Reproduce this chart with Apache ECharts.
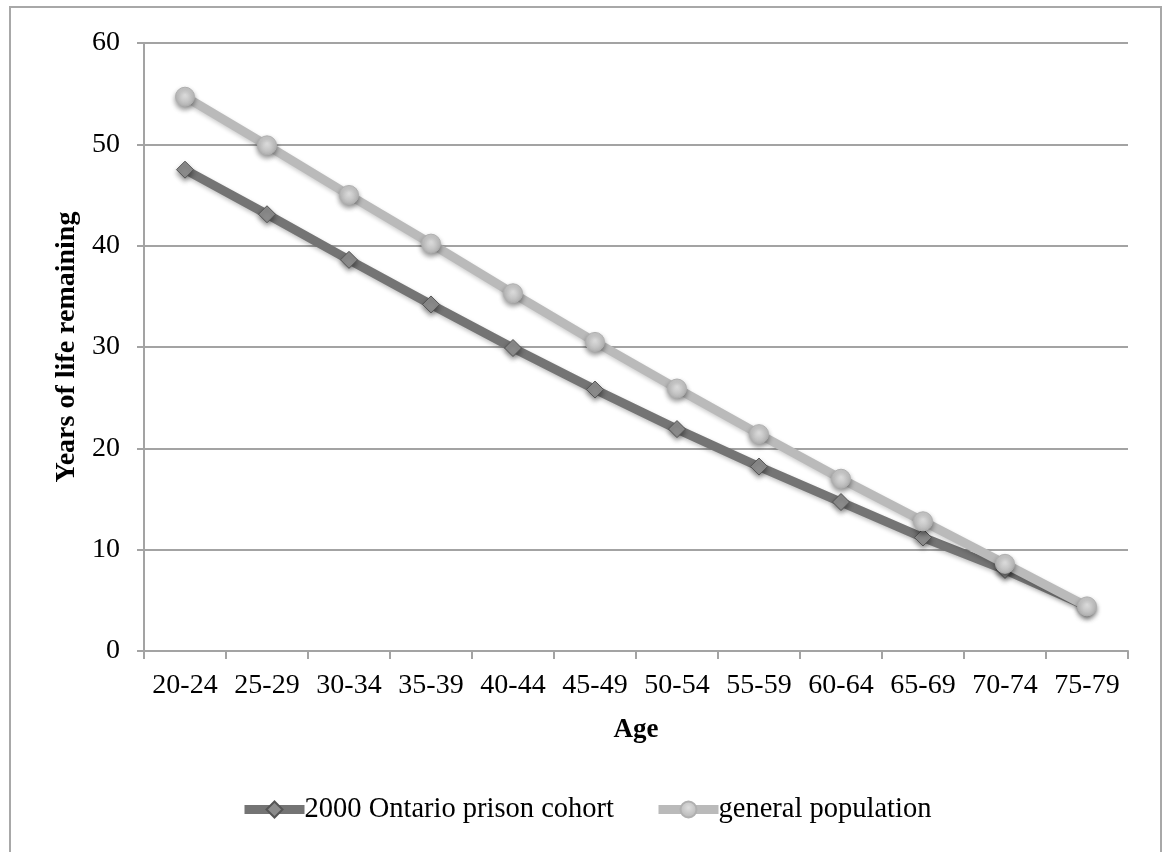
<!DOCTYPE html>
<html>
<head>
<meta charset="utf-8">
<script src="https://cdn.jsdelivr.net/npm/echarts@6/dist/echarts.min.js"></script>
<style>
html,body{margin:0;padding:0;background:#fff;}
#main{width:1165px;height:852px;}
</style>
</head>
<body>
<div id="main"></div>
<script>
const categories = ['20-24','25-29','30-34','35-39','40-44','45-49','50-54','55-59','60-64','65-69','70-74','75-79'];
const prisonCohort = [47.5, 43.1, 38.6, 34.2, 29.9, 25.8, 21.9, 18.2, 14.7, 11.2, 8.0, 4.4];
const generalPopulation = [54.7, 49.9, 45.0, 40.2, 35.3, 30.5, 25.9, 21.4, 17.0, 12.8, 8.6, 4.4];
const seriesNames = ['2000 Ontario prison cohort', 'general population'];
const yTicks = {min: 0, max: 60, interval: 10};

const chart = echarts.init(document.getElementById('main'), null, {renderer: 'canvas'});
const serif = '"Liberation Serif", "DejaVu Serif", serif';
const gridColor = '#a3a3a3';

chart.setOption({
  animation: false,
  backgroundColor: '#fff',
  graphic: [{
    type: 'rect', z: -1,
    shape: {x: 10, y: 7, width: 1151, height: 880},
    style: {fill: '#fff', stroke: '#a8a8a8', lineWidth: 2}
  }],
  grid: {left: 144, right: 37, top: 43, bottom: 201},
  legend: {
    data: seriesNames,
    left: 240, top: 795, padding: 0,
    itemWidth: 60, itemHeight: 20, itemGap: 40,
    lineStyle: {width: 9},
    textStyle: {fontFamily: serif, fontSize: 28.5, color: '#000', padding: [0, 0, 0, -5]}
  },
  xAxis: {
    type: 'category',
    data: categories,
    boundaryGap: true,
    name: 'Age',
    nameLocation: 'middle',
    nameGap: 66,
    nameTextStyle: {fontFamily: serif, fontSize: 27, fontWeight: 'bold', color: '#000'},
    axisLine: {lineStyle: {color: gridColor, width: 2}},
    axisTick: {show: true, length: 8, inside: false, interval: 0, lineStyle: {color: gridColor, width: 2}},
    axisLabel: {fontFamily: serif, fontSize: 28, color: '#000', margin: 21, interval: 0},
    splitLine: {show: false}
  },
  yAxis: {
    type: 'value',
    min: yTicks.min, max: yTicks.max, interval: yTicks.interval,
    name: 'Years of life remaining',
    nameLocation: 'middle',
    nameGap: 62,
    nameTextStyle: {fontFamily: serif, fontSize: 28, fontWeight: 'bold', color: '#000'},
    axisLine: {show: true, lineStyle: {color: gridColor, width: 2}},
    axisTick: {show: true, length: 7, lineStyle: {color: gridColor, width: 2}},
    axisLabel: {fontFamily: serif, fontSize: 28, color: '#000', margin: 24},
    splitLine: {show: true, lineStyle: {color: gridColor, width: 2}}
  },
  series: [
    {
      name: seriesNames[0],
      type: 'line',
      data: prisonCohort,
      symbol: 'diamond',
      symbolSize: 17,
      lineStyle: {color: '#747474', width: 9, shadowColor: 'rgba(0,0,0,0.25)', shadowBlur: 4, shadowOffsetY: 2},
      itemStyle: {color: '#8c8c8c', borderColor: '#555', borderWidth: 1,
        shadowColor: 'rgba(0,0,0,0.4)', shadowBlur: 5, shadowOffsetY: 3},
      z: 2
    },
    {
      name: seriesNames[1],
      type: 'line',
      data: generalPopulation,
      symbol: 'circle',
      symbolSize: 19,
      lineStyle: {color: '#bababa', width: 9, shadowColor: 'rgba(0,0,0,0.2)', shadowBlur: 4, shadowOffsetY: 2},
      itemStyle: {
        color: {type: 'radial', x: 0.5, y: 0.4, r: 0.6,
          colorStops: [{offset: 0, color: '#dedede'}, {offset: 1, color: '#b4b4b4'}]},
        borderColor: '#b0b0b0', borderWidth: 1,
        shadowColor: 'rgba(0,0,0,0.4)', shadowBlur: 5, shadowOffsetY: 3
      },
      z: 3
    }
  ]
});
</script>
</body>
</html>
